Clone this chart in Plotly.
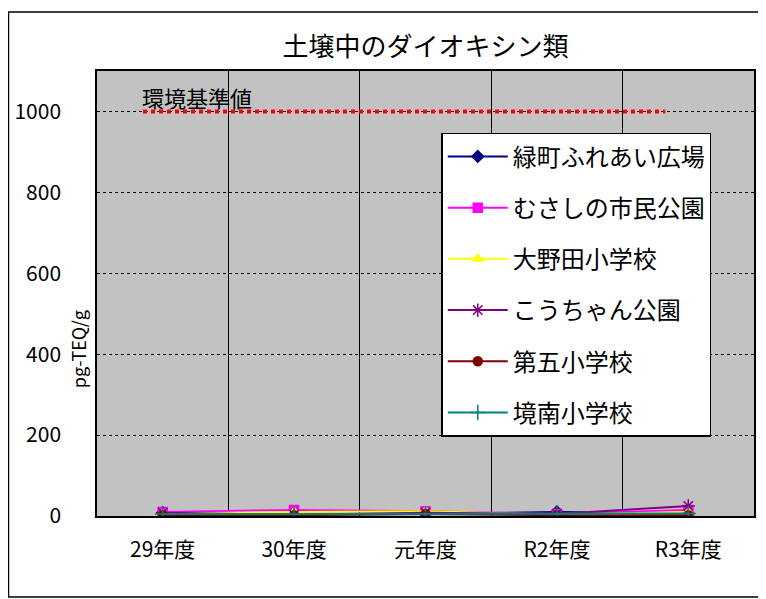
"""
土壌中のダイオキシン類 推移グラフ
"""

import plotly.graph_objects as go


YEARS = ["29年度", "30年度", "元年度", "R2年度", "R3年度"]

SITES = ["緑町ふれあい広場", "むさしの市民公園", "大野田小学校", "こうちゃん公園", "第五小学校", "境南小学校"]

MIDORICHO = [8, 5, 5, 10, 6]
MUSASHINO = [10, 15, 12, 5, 15]
ONODA = [6, 10, 12, 3, 10]
KOUCHAN = [8, 3, 8, 5, 25]
DAIGO = [2, 2, 5, 2, 2]
KYONAN = [5, 5, 5, 5, 6]

STANDARD = 1000  # 環境基準値 pg-TEQ/g

SERIES = [MIDORICHO, MUSASHINO, ONODA, KOUCHAN, DAIGO, KYONAN]

STYLES = [
    dict(color="#000080", symbol="diamond", size=9),
    dict(color="#FF00FF", symbol="square", size=9),
    dict(color="#FFFF00", symbol="triangle-up", size=9),
    dict(color="#800080", symbol="asterisk-open", size=11),
    dict(color="#800000", symbol="circle", size=9),
    dict(color="#008080", symbol="cross-thin-open", size=11),
]

FONT = "Noto Sans CJK JP"

fig = go.Figure()

for name, values, st in zip(SITES, SERIES, STYLES):
    fig.add_trace(go.Scatter(
        x=YEARS,
        y=values,
        mode="lines+markers",
        name=name,
        legendgroup=name,
        line=dict(color=st["color"], width=2),
        marker=dict(color=st["color"], symbol=st["symbol"], size=st["size"],
                    line=dict(color=st["color"], width=1.5)),
    ))

# 環境基準値ライン
fig.add_shape(
    type="line", xref="x domain", yref="y",
    x0=0.07, x1=0.865, y0=STANDARD, y1=STANDARD,
    line=dict(color="#FF0000", width=4, dash="dot"),
)
fig.add_annotation(
    xref="x domain", yref="y", x=0.065, y=STANDARD,
    text="環境基準値", showarrow=False, xanchor="left", yanchor="bottom",
    font=dict(family=FONT, size=22, color="black"), yshift=-4,
)

# 単位
fig.add_annotation(
    xref="paper", yref="paper", x=0, y=0.375,
    text="pg-TEQ/g", showarrow=False, textangle=-90,
    xanchor="right", yanchor="middle", xshift=-4,
    font=dict(family=FONT, size=18, color="black"),
)

# 外枠
fig.add_shape(
    type="rect", xref="paper", yref="paper",
    x0=-0.1347, x1=1.1, y0=-0.182, y1=1.1326,
    line=dict(color="black", width=1.5), layer="below",
)

fig.update_layout(
    width=758,
    height=591,
    title=dict(text="土壌中のダイオキシン類", x=0.5, xref="paper", xanchor="center",
               y=0.934, yanchor="middle",
               font=dict(family=FONT, size=26, color="black")),
    paper_bgcolor="white",
    plot_bgcolor="#C2C2C2",
    margin=dict(l=89, r=12, t=63, b=83, autoexpand=False),
    font=dict(family=FONT, color="black"),
    legend=dict(
        x=0.524, y=0.861, xanchor="left", yanchor="top",
        bgcolor="white", bordercolor="black", borderwidth=1.5,
        font=dict(family=FONT, size=24, color="black"),
        tracegroupgap=17,
        traceorder="grouped",
        itemwidth=60,
    ),
    xaxis=dict(
        type="category",
        range=[-0.5, len(YEARS) - 0.5],
        tickson="boundaries",
        showgrid=True, gridcolor="black", gridwidth=1,
        showline=True, linecolor="black", linewidth=1.5, mirror=True,
        ticks="", ticklabelstandoff=14,
        tickfont=dict(family=FONT, size=21),
    ),
    yaxis=dict(
        range=[0, 1100],
        tickvals=[0, 200, 400, 600, 800, 1000],
        showgrid=True, gridcolor="black", gridwidth=1, griddash="dot",
        showline=True, linecolor="black", linewidth=1.5, mirror=True,
        zeroline=False,
        ticks="", ticklabelstandoff=30,
        tickfont=dict(family=FONT, size=21),
    ),
)

fig.write_html("out.html")
